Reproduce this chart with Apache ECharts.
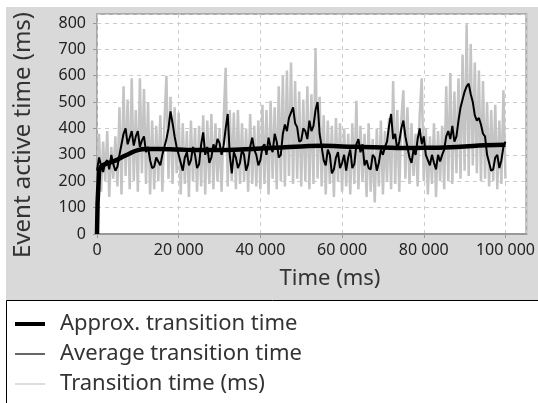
<!DOCTYPE html>
<html>
<head>
<meta charset="utf-8">
<script src="https://cdn.jsdelivr.net/npm/echarts@6/dist/echarts.min.js"></script>
<style>
html, body { margin: 0; padding: 0; background: #fff; }
#chart { width: 538px; height: 403px; }
</style>
</head>
<body>
<div id="chart"></div>
<script>
// raw transition time, sampled every 500 ms
var transitionStep = 500;
var transitionValues = [
  0, 380, 160, 350, 200, 390, 140, 330, 210, 370,
  180, 480, 150, 560, 220, 510, 170, 590, 200, 470,
  160, 590, 230, 550, 190, 500, 150, 430, 170, 410,
  200, 450, 160, 420, 600, 210, 520, 190, 480, 230,
  460, 150, 420, 190, 390, 140, 430, 200, 400, 160,
  410, 180, 450, 150, 430, 190, 455, 170, 420, 200,
  400, 160, 430, 630, 180, 470, 200, 460, 170, 470,
  190, 420, 200, 400, 160, 455, 190, 410, 180, 430,
  170, 490, 190, 470, 150, 505, 210, 480, 170, 560,
  200, 600, 180, 620, 220, 650, 190, 580, 210, 540,
  180, 510, 200, 560, 170, 530, 190, 705, 210, 520,
  180, 450, 150, 430, 190, 410, 140, 440, 200, 420,
  160, 400, 180, 380, 150, 420, 190, 505, 170, 410,
  200, 380, 140, 420, 160, 360, 120, 400, 180, 430,
  150, 390, 200, 440, 170, 580, 190, 470, 160, 430,
  545, 210, 480, 190, 420, 220, 380, 180, 450, 590,
  200, 400, 150, 370, 190, 420, 140, 390, 200, 410,
  170, 560, 200, 610, 190, 540, 230, 590, 210, 680,
  240, 795, 220, 720, 260, 650, 230, 620, 200, 580,
  210, 500, 180, 470, 200, 490, 170, 430, 190, 545,
  210
];

// average transition time, sampled every 500 ms
var averageStep = 500;
var averageValues = [
  240, 290, 260, 235, 270, 280, 245, 300, 265, 240,
  255, 300, 340, 380, 400, 340, 365, 390, 335, 370,
  390, 330, 355, 370, 310, 330, 280, 250, 255, 290,
  275, 260, 300, 330, 360, 400, 465, 420, 370, 330,
  300, 270, 240, 290, 310, 260, 280, 330, 300, 250,
  265, 340, 385, 300, 330, 270, 290, 340, 320, 360,
  345, 300, 335, 400, 455, 300, 230, 310, 290, 250,
  270, 320, 300, 240, 265, 330, 365, 320, 300, 260,
  280, 330, 340, 300, 365, 330, 310, 380, 350, 290,
  300, 380, 415, 390, 440, 460, 480, 420, 405, 350,
  355, 400, 390, 360, 430, 390, 410, 470, 500, 380,
  330, 280, 260, 320, 300, 230, 245, 290, 310, 250,
  270, 300, 240, 290, 320, 250, 265, 340, 360, 310,
  340, 260, 280, 250, 245, 300, 290, 240, 270, 320,
  300, 330, 350, 410, 455, 360, 380, 320, 350, 400,
  430, 370, 330, 290, 270, 320, 300, 360, 400, 340,
  370, 300, 280, 260, 300, 270, 245, 300, 275, 300,
  320, 370, 390, 360, 410, 350, 370, 430, 480, 510,
  540, 560, 570, 530, 500, 450, 430, 440, 415, 380,
  370, 300, 270, 240, 245, 290, 300, 250, 280, 330,
  350
];

// smoothed approximation
var approxTimes = [0, 500, 1000, 2000, 4000, 6000, 8000, 10000, 12000, 15000, 20000, 25000, 30000, 35000,
  40000, 45000, 50000, 55000, 60000, 65000, 70000, 75000, 80000, 85000, 90000, 95000, 100000];
var approxValues = [0, 235, 255, 265, 275, 290, 305, 318, 322, 322, 320, 318, 318, 320,
  324, 328, 332, 335, 332, 330, 328, 326, 327, 328, 332, 336, 338];

var yTicks = [0, 100, 200, 300, 400, 500, 600, 700, 800];
var xTicks = [0, 20000, 40000, 60000, 80000, 100000];

function pairs(step, vals) {
  return vals.map(function (v, i) { return [i * step, v]; });
}

var chart = echarts.init(document.getElementById('chart'));
var font = 'Noto Sans';

var option = {
  animation: false,
  textStyle: { fontFamily: font },
  graphic: [
    // grey panel behind the plot
    { type: 'rect', z: -10, shape: { x: 6, y: 7, width: 540, height: 294 }, style: { fill: '#d9d9d9' } },
    // legend box
    { type: 'rect', z: -10, shape: { x: 6.5, y: 300.5, width: 600, height: 200 }, style: { fill: '#fff', stroke: '#000', lineWidth: 1 } },
    { type: 'text', x: 23, y: 135, rotation: Math.PI / 2,
      style: { text: 'Event active time (ms)', font: '24px "Noto Sans"', fill: '#333', align: 'center', verticalAlign: 'middle' } },
    { type: 'text', x: 330, y: 279,
      style: { text: 'Time (ms)', font: '22px "Noto Sans"', fill: '#333', align: 'center', verticalAlign: 'middle' } }
  ],
  grid: {
    left: 97, top: 14, right: 9, bottom: 169,
    show: true, backgroundColor: '#fff', borderColor: '#aaa', borderWidth: 2
  },
  xAxis: {
    type: 'value', min: 0, max: 105100, interval: 20000,
    axisLine: { show: true, lineStyle: { color: '#999', width: 2 } },
    axisTick: { show: true, length: 4, lineStyle: { color: '#999' } },
    axisLabel: {
      margin: 8, color: '#222', fontSize: 16, fontFamily: font, showMaxLabel: false,
      formatter: function (v) { return xTicks.indexOf(v) < 0 ? '' : String(v).replace(/\B(?=(\d{3})+(?!\d))/g, ' '); }
    },
    splitLine: { show: true, lineStyle: { color: '#ccc', type: [4, 4] } }
  },
  yAxis: {
    type: 'value', min: 0, max: 834, interval: 100,
    axisLine: { show: false },
    axisTick: { show: true, length: 4, lineStyle: { color: '#999' } },
    axisLabel: {
      margin: 11, color: '#222', fontSize: 16, fontFamily: font, showMaxLabel: false,
      formatter: function (v) { return yTicks.indexOf(v) < 0 ? '' : String(v); }
    },
    splitLine: { show: true, lineStyle: { color: '#ccc', type: [4, 4] } }
  },
  legend: {
    orient: 'vertical', left: 10, top: 307, height: 200,
    itemWidth: 30, itemHeight: 14, itemGap: 6,
    textStyle: { fontSize: 22, lineHeight: 24, color: '#333', fontFamily: font, padding: [0, 0, 0, 10] },
    data: [
      { name: 'Approx. transition time', icon: 'path://M0,0H30V4H0Z', itemStyle: { color: '#000' } },
      { name: 'Average transition time', icon: 'path://M0,0H30V2H0Z', itemStyle: { color: '#666' } },
      { name: 'Transition time (ms)', icon: 'path://M0,0H30V2H0Z', itemStyle: { color: '#ddd' } }
    ]
  },
  series: [
    {
      name: 'Transition time (ms)', type: 'line', showSymbol: false, symbol: 'none',
      data: pairs(transitionStep, transitionValues),
      lineStyle: { color: '#c4c4c4', width: 2.5 }, itemStyle: { color: '#c4c4c4' }, z: 1
    },
    {
      name: 'Average transition time', type: 'line', showSymbol: false, symbol: 'none',
      data: pairs(averageStep, averageValues),
      lineStyle: { color: '#000', width: 2 }, itemStyle: { color: '#000' }, z: 2
    },
    {
      name: 'Approx. transition time', type: 'line', showSymbol: false, symbol: 'none', smooth: true,
      data: approxTimes.map(function (t, i) { return [t, approxValues[i]]; }),
      lineStyle: { color: '#000', width: 4.5 }, itemStyle: { color: '#000' }, z: 3
    }
  ]
};
chart.setOption(option);
</script>
</body>
</html>
